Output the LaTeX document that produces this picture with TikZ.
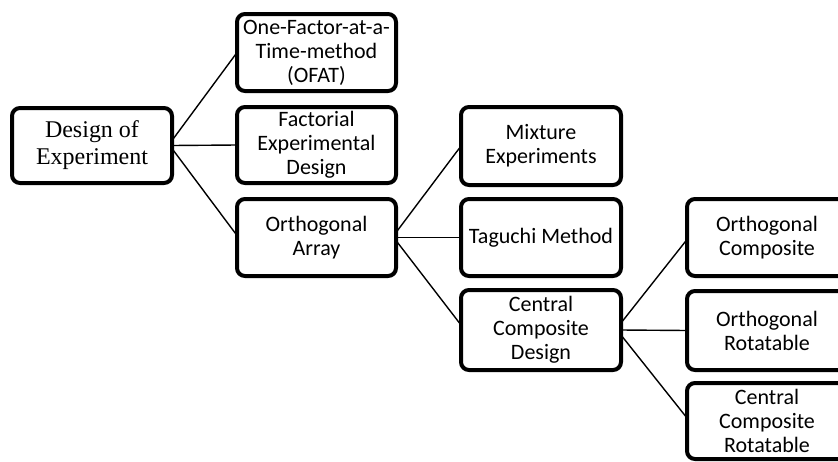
\documentclass[tikz,border=0pt]{standalone}
\usepackage{fontspec}
\setmainfont{Carlito}
\newfontfamily\serifdoe{Liberation Serif}
\usetikzlibrary{calc}
\begin{document}
\begin{tikzpicture}[x=1pt,y=-1pt,
  box/.style={draw=black, line width=4pt, rounded corners=8pt, fill=white,
    align=center, inner sep=2pt, outer sep=0pt,
    font=\fontsize{22}{24}\selectfont},
  link/.style={draw=black, line width=1.4pt}]
  % page frame
  \useasboundingbox (0,0) rectangle (838,461);
  \clip (0,0) rectangle (838,461);
  \fill[white] (0,0) rectangle (838,461);

  % boxes (centre, width, height)
  \node[box, minimum width=160pt, minimum height=75pt,
        font=\serifdoe\fontsize{24}{27}\selectfont] (doe) at (92,145.5) {Design of\\Experiment};
  \node[box, minimum width=159pt, minimum height=77pt] (ofat) at (316.5,52.5) {One-Factor-at-a-\\Time-method\\(OFAT)};
  \node[box, minimum width=159pt, minimum height=76pt] (fact) at (316.5,145) {Factorial\\Experimental\\Design};
  \node[box, minimum width=159pt, minimum height=77pt] (oa) at (316.5,237.5) {Orthogonal\\Array};
  \node[box, minimum width=160pt, minimum height=78pt] (mix) at (541,146) {Mixture\\Experiments};
  \node[box, minimum width=160pt, minimum height=77pt] (tag) at (541,237.5) {Taguchi Method};
  \node[box, minimum width=160pt, minimum height=80pt] (ccd) at (541,330) {Central\\Composite\\Design};
  \node[box, minimum width=160pt, minimum height=77pt] (oc) at (767,237.5) {Orthogonal\\Composite};
  \node[box, minimum width=160pt, minimum height=79pt] (orot) at (767,330.5) {Orthogonal\\Rotatable};
  \node[box, minimum width=160pt, minimum height=76pt] (ccr) at (767,421) {Central\\Composite\\Rotatable};

  % connectors
  \draw[link] ($(doe.east)+(0,-5)$) -- (ofat.west);
  \draw[link] (doe.east) -- (fact.west);
  \draw[link] ($(doe.east)+(0,3)$) -- ($(oa.west)+(0,-2)$);

  \draw[link] ($(oa.east)+(0,-5)$) -- (mix.west);
  \draw[link] (oa.east) -- (tag.west);
  \draw[link] ($(oa.east)+(0,3)$) -- ($(ccd.west)+(0,-5)$);

  \draw[link] ($(ccd.east)+(0,-7)$) -- ($(oc.west)+(0,2)$);
  \draw[link] (ccd.east) -- (orot.west);
  \draw[link] ($(ccd.east)+(0,5)$) -- ($(ccr.west)+(0,-3)$);
\end{tikzpicture}
\end{document}
